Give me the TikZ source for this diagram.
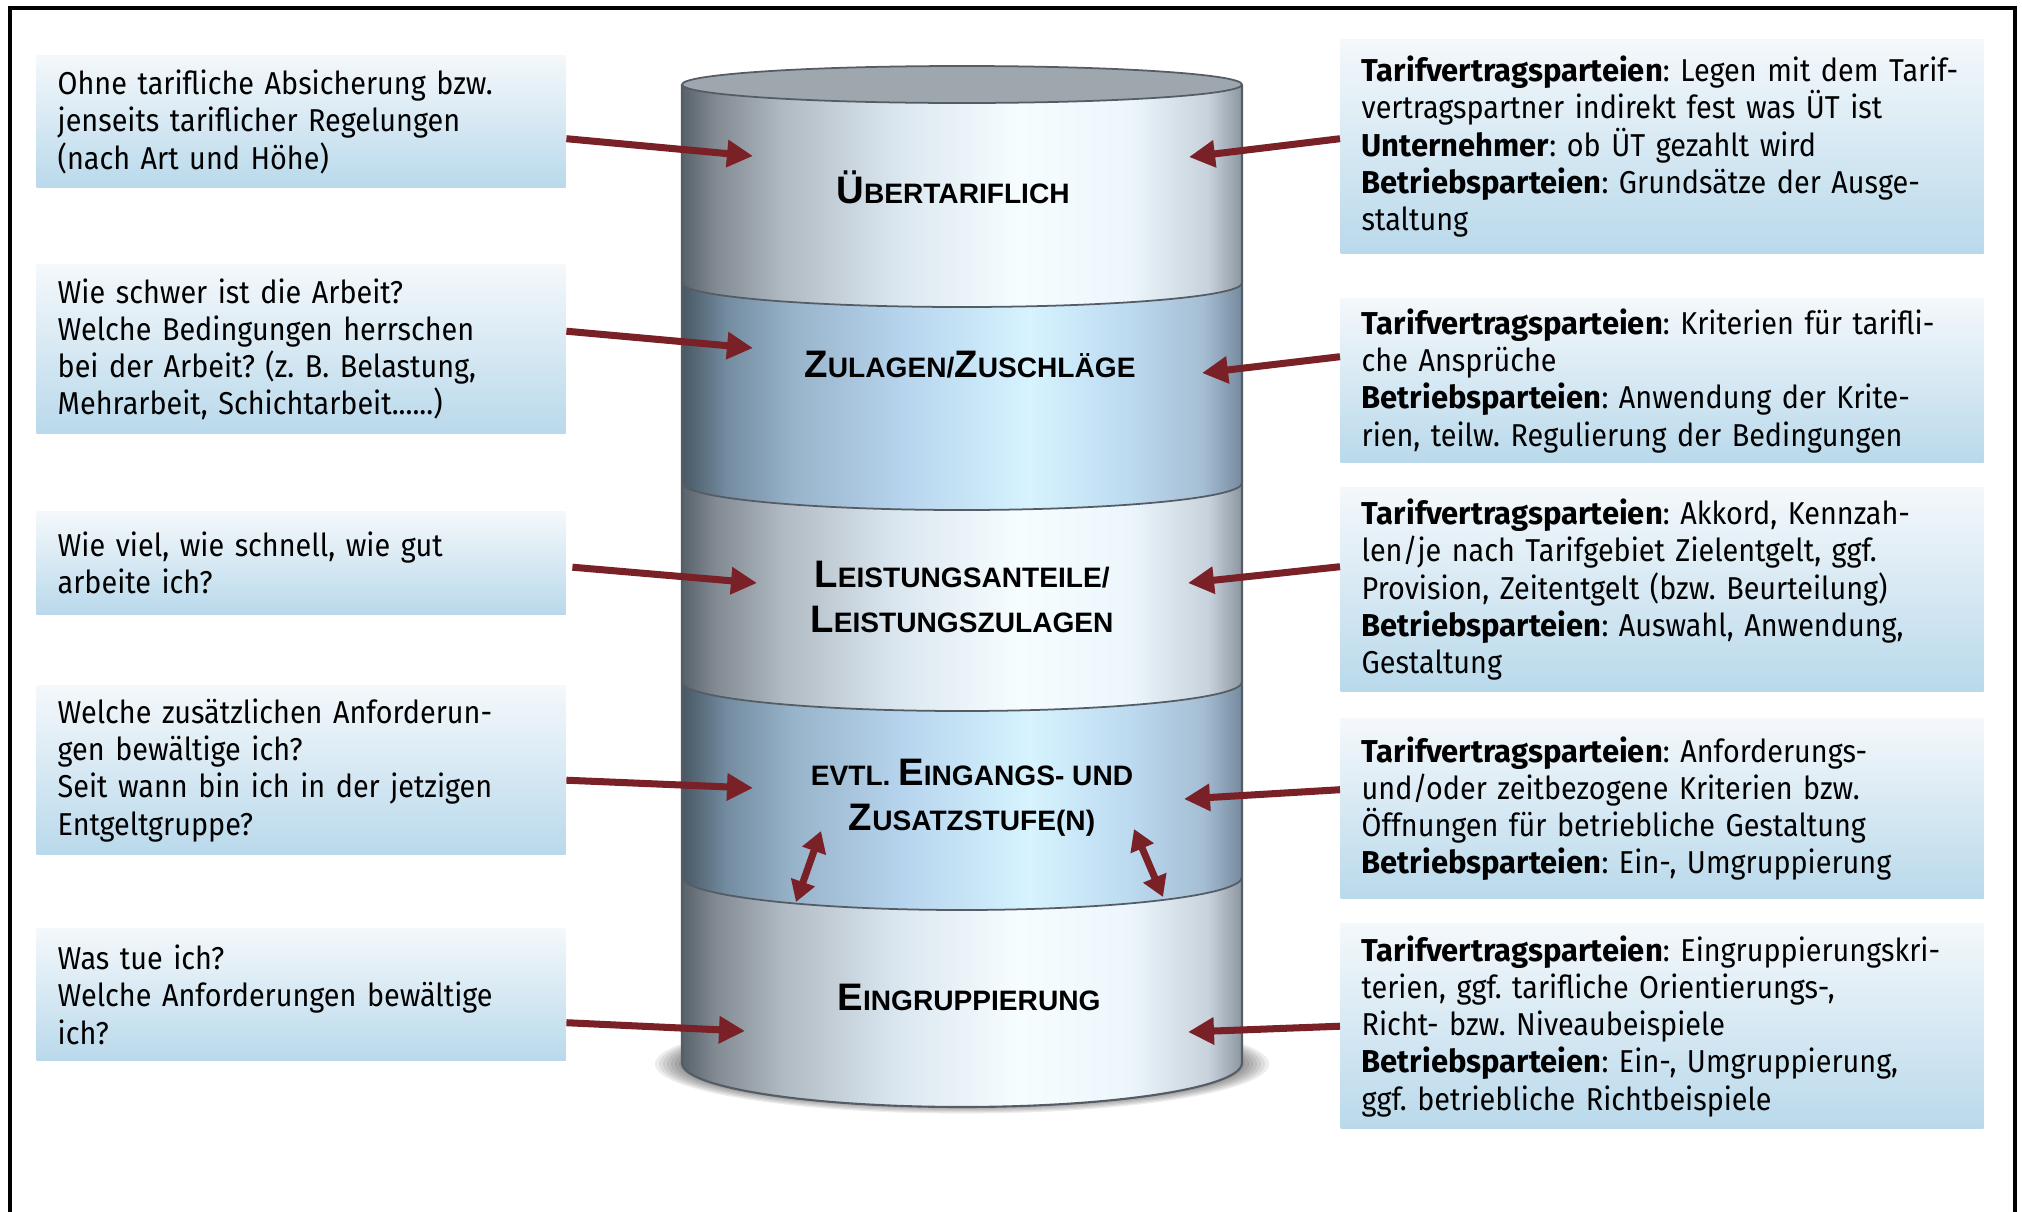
\documentclass[tikz,border=0pt]{standalone}
\usepackage{fontspec}
\usepackage{tikz}
\usetikzlibrary{arrows.meta}
\setmainfont{Fira Sans}[FakeStretch=0.91, WordSpace=0.8, BoldFeatures={FakeStretch=0.98}]
\newfontfamily\cylfont{Liberation Sans}
\frenchspacing

\definecolor{arrowred}{RGB}{122,32,39}
\definecolor{boxtop}{RGB}{244,248,251}
\definecolor{boxbot}{RGB}{185,217,235}
\definecolor{ringline}{RGB}{85,92,100}
\definecolor{lidgray}{RGB}{158,166,174}

\definecolor{ga}{RGB}{88,98,107}
\definecolor{gb}{RGB}{130,138,146}
\definecolor{gc}{RGB}{176,186,195}
\definecolor{gd}{RGB}{218,230,239}
\definecolor{ge}{RGB}{246,253,255}
\definecolor{gf}{RGB}{236,246,252}
\definecolor{gg}{RGB}{200,210,220}
\definecolor{gh}{RGB}{140,150,160}

\definecolor{ba}{RGB}{72,88,100}
\definecolor{bb}{RGB}{115,140,160}
\definecolor{bc}{RGB}{152,180,203}
\definecolor{bd}{RGB}{183,213,238}
\definecolor{be}{RGB}{214,243,254}
\definecolor{bf}{RGB}{188,218,240}
\definecolor{bg}{RGB}{165,190,212}
\definecolor{bh}{RGB}{118,138,158}

\pgfdeclarehorizontalshading{grayband}{100bp}{color(0bp)=(ga); color(25bp)=(ga);
  color(28bp)=(gb); color(34bp)=(gc); color(44bp)=(gd); color(55bp)=(ge);
  color(65bp)=(gf); color(72bp)=(gg); color(75bp)=(gh); color(100bp)=(gh)}
\pgfdeclarehorizontalshading{blueband}{100bp}{color(0bp)=(ba); color(25bp)=(ba);
  color(29bp)=(bb); color(35bp)=(bc); color(45bp)=(bd); color(56bp)=(be);
  color(65bp)=(bf); color(71.5bp)=(bg); color(75bp)=(bh); color(100bp)=(bh)}

\newcommand\bigc[1]{{\fontsize{10.9}{12.8}\selectfont #1}}

\tikzset{
  infobox/.style={rectangle, anchor=north west, top color=boxtop, bottom color=boxbot,
    inner xsep=0.21cm, inner ysep=0pt, align=left, font=\fontsize{9}{10.6}\selectfont},
  leftbox/.style={infobox, text width=4.87cm, minimum width=5.29cm},
  rightbox/.style={infobox, text width=6.01cm, minimum width=6.43cm},
  layer/.style={font=\cylfont\bfseries\fontsize{8}{12.8}\selectfont, align=center, inner sep=0pt},
  pfeil/.style={draw=arrowred, line width=2pt, -{Triangle[length=0.26cm,width=0.26cm]}},
  doppelpfeil/.style={draw=arrowred, line width=2pt,
    {Triangle[length=0.21cm,width=0.24cm]}-{Triangle[length=0.21cm,width=0.24cm]}}
}

\begin{document}
\begin{tikzpicture}
\useasboundingbox (0,0) rectangle (20.22,-12.12);

\draw[line width=0.9pt] (0.10,-12.12) -- (0.10,-0.08) -- (20.15,-0.08) -- (20.15,-12.12);

\foreach \k in {1,...,8}
  \fill[black, opacity=0.07] (9.62,-10.64) ellipse ({2.75+0.04*\k} and {0.40+0.012*\k});

\shade[shading=grayband] (6.82,-8.77) -- (6.82,-10.63) arc[start angle=180, end angle=360, x radius=2.80, y radius=0.44] -- (12.42,-8.77) -- cycle;
\shade[shading=blueband] (6.82,-6.82) -- (6.82,-8.77) arc[start angle=180, end angle=360, x radius=2.80, y radius=0.33] -- (12.42,-6.82) -- cycle;
\shade[shading=grayband] (6.82,-4.83) -- (6.82,-6.82) arc[start angle=180, end angle=360, x radius=2.80, y radius=0.29] -- (12.42,-4.83) -- cycle;
\shade[shading=blueband] (6.82,-2.83) -- (6.82,-4.83) arc[start angle=180, end angle=360, x radius=2.80, y radius=0.27] -- (12.42,-2.83) -- cycle;
\shade[shading=grayband] (6.82,-0.845) -- (6.82,-2.83) arc[start angle=180, end angle=360, x radius=2.80, y radius=0.24] -- (12.42,-0.845) -- cycle;
\filldraw[fill=lidgray, draw=ringline, line width=0.5pt] (9.62,-0.845) ellipse (2.80 and 0.185);

\draw[ringline, line width=0.5pt] (6.82,-2.83) arc[start angle=180, end angle=360, x radius=2.80, y radius=0.24];
\draw[ringline, line width=0.5pt] (6.82,-4.83) arc[start angle=180, end angle=360, x radius=2.80, y radius=0.27];
\draw[ringline, line width=0.5pt] (6.82,-6.82) arc[start angle=180, end angle=360, x radius=2.80, y radius=0.29];
\draw[ringline, line width=0.5pt] (6.82,-8.77) arc[start angle=180, end angle=360, x radius=2.80, y radius=0.33];
\draw[ringline, line width=0.6pt] (6.82,-0.845) -- (6.82,-10.63) arc[start angle=180, end angle=360, x radius=2.80, y radius=0.44] -- (12.42,-0.845);

\node[layer] (ueber) at (9.53,-1.87) {\bigc{Ü}BERTARIFLICH};
\node[layer] (zulagen) at (9.70,-3.65) {\bigc{Z}ULAGEN/\bigc{Z}USCHLÄGE};
\node[layer] (leistung) at (9.62,-5.97) {\bigc{L}EISTUNGSANTEILE/\\\bigc{L}EISTUNGSZULAGEN};
\node[layer] (stufen) at (9.72,-7.98) {EVTL. \bigc{E}INGANGS- UND\\\bigc{Z}USATZSTUFE(N)};
\node[layer] (eingr) at (9.69,-9.97) {\bigc{E}INGRUPPIERUNG};

\node[leftbox, minimum height=1.32cm] (l1) at (0.36,-0.55) {Ohne tarifliche Absicherung bzw.\\jenseits tariflicher Regelungen\\(nach Art und Höhe)};
\node[leftbox, minimum height=1.69cm] (l2) at (0.36,-2.64) {Wie schwer ist die Arbeit?\\Welche Bedingungen herrschen\\bei der Arbeit? (z.~B. Belastung,\\Mehrarbeit, Schichtarbeit......)};
\node[leftbox, minimum height=1.03cm] (l3) at (0.36,-5.11) {Wie viel, wie schnell, wie gut\\arbeite ich?};
\node[leftbox, minimum height=1.69cm] (l4) at (0.36,-6.85) {Welche zusätzlichen Anforderun-\\gen bewältige ich?\\Seit wann bin ich in der jetzigen\\Entgeltgruppe?};
\node[leftbox, minimum height=1.32cm] (l5) at (0.36,-9.28) {Was tue ich?\\Welche Anforderungen bewältige\\ich?};

\node[rightbox, minimum height=2.14cm] (r1) at (13.40,-0.39) {\textbf{Tarifvertragsparteien}: Legen mit dem Tarif-\\vertragspartner indirekt fest was ÜT ist\\\textbf{Unternehmer}: ob ÜT gezahlt wird\\\textbf{Betriebsparteien}: Grundsätze der Ausge-\\staltung};
\node[rightbox, minimum height=1.64cm] (r2) at (13.40,-2.98) {\textbf{Tarifvertragsparteien}: Kriterien für tarifli-\\che Ansprüche\\\textbf{Betriebsparteien}: Anwendung der Krite-\\rien, teilw. Regulierung der Bedingungen};
\node[rightbox, minimum height=2.04cm] (r3) at (13.40,-4.87) {\textbf{Tarifvertragsparteien}: Akkord, Kennzah-\\len/je nach Tarifgebiet Zielentgelt, ggf.\\Provision, Zeitentgelt (bzw. Beurteilung)\\\textbf{Betriebsparteien}: Auswahl, Anwendung,\\Gestaltung};
\node[rightbox, minimum height=1.80cm] (r4) at (13.40,-7.18) {\textbf{Tarifvertragsparteien}: Anforderungs-\\und/oder zeitbezogene Kriterien bzw.\\Öffnungen für betriebliche Gestaltung\\\textbf{Betriebsparteien}: Ein-, Umgruppierung};
\node[rightbox, minimum height=2.05cm] (r5) at (13.40,-9.23) {\textbf{Tarifvertragsparteien}: Eingruppierungskri-\\terien, ggf. tarifliche Orientierungs-,\\Richt- bzw. Niveaubeispiele\\\textbf{Betriebsparteien}: Ein-, Umgruppierung,\\ggf. betriebliche Richtbeispiele};

\coordinate (tl1) at (7.53,-1.56);
\coordinate (tl2) at (7.53,-3.48);
\coordinate (tl3) at (7.57,-5.83);
\coordinate (tl4) at (7.53,-7.88);
\coordinate (tl5) at (7.45,-10.31);
\coordinate (tr1) at (11.89,-1.57);
\coordinate (tr2) at (12.02,-3.73);
\coordinate (tr3) at (11.88,-5.83);
\coordinate (tr4) at (11.84,-7.99);
\coordinate (tr5) at (11.88,-10.32);
\coordinate (dl1) at (8.21,-8.31);
\coordinate (dl2) at (7.96,-9.02);
\coordinate (dr1) at (11.34,-8.29);
\coordinate (dr2) at (11.63,-8.97);

\draw[pfeil] ([yshift=-0.17cm]l1.east) -- (tl1);
\draw[pfeil] ([yshift=0.18cm]l2.east) -- (tl2);
\draw[pfeil] ([xshift=0.06cm,yshift=-0.04cm]l3.east) -- (tl3);
\draw[pfeil] ([yshift=-0.10cm]l4.east) -- (tl4);
\draw[pfeil] ([yshift=-0.28cm]l5.east) -- (tl5);
\draw[pfeil] ([yshift=0.08cm]r1.west) -- (tr1);
\draw[pfeil] ([yshift=0.24cm]r2.west) -- (tr2);
\draw[pfeil] ([yshift=0.23cm]r3.west) -- (tr3);
\draw[pfeil] ([yshift=0.19cm]r4.west) -- (tr4);
\draw[pfeil] (r5.west) -- (tr5);
\draw[doppelpfeil] (dl1) -- (dl2);
\draw[doppelpfeil] (dr1) -- (dr2);
\end{tikzpicture}
\end{document}
